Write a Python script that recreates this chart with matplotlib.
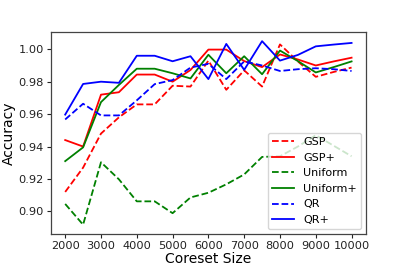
import matplotlib
matplotlib.use('Agg')
import matplotlib.pyplot as plt
import numpy as np

sizes = [2000, 2500, 3000, 3500, 4000, 4500, 5000, 5500, 6000,
         6500, 7000, 7500, 8000, 8500, 9000, 9500, 10000]

gsp = [0.912, 0.927, 0.948, 0.958, 0.966, 0.966, 0.9775, 0.977, 0.993,
       0.975, 0.987, 0.977, 1.003, 0.9925, 0.983, 0.986, 0.9887]
gsp_plus = [0.944, 0.940, 0.972, 0.9735, 0.9844, 0.9844, 0.980, 0.9872, 0.9998,
            0.9998, 0.9927, 0.989, 0.9968, 0.9937, 0.990, 0.9925, 0.9948]
uniform = [0.9046, 0.8918, 0.9303, 0.9198, 0.9062, 0.9062, 0.8989, 0.9086, 0.9115,
           0.9167, 0.9228, 0.9336, 0.934, 0.940, 0.947, 0.9405, 0.934]
uniform_plus = [0.931, 0.9395, 0.9674, 0.978, 0.988, 0.988, 0.9852, 0.982, 0.9966,
                0.9852, 0.9957, 0.9846, 0.9992, 0.9927, 0.9857, 0.989, 0.9925]
qr = [0.9567, 0.9664, 0.9592, 0.9592, 0.9685, 0.9785, 0.981, 0.9887, 0.991,
      0.9816, 0.9925, 0.990, 0.9866, 0.9877, 0.9883, 0.9877, 0.9866]
qr_plus = [0.9597, 0.9786, 0.980, 0.9793, 0.996, 0.996, 0.9926, 0.9957, 0.9816,
           1.0033, 0.9873, 1.005, 0.993, 0.9965, 1.0018, 1.0029, 1.0039]

fig = plt.figure(figsize=(4.07, 2.71), dpi=100)
ax = fig.add_subplot(111)
plt.subplots_adjust(left=0.125, right=0.899, top=0.882, bottom=0.137)

lw = 1.3
ax.plot(sizes, gsp, 'r--', lw=lw, label='GSP')
ax.plot(sizes, gsp_plus, 'r-', lw=lw, label='GSP+')
ax.plot(sizes, uniform, 'g--', lw=lw, label='Uniform')
ax.plot(sizes, uniform_plus, 'g-', lw=lw, label='Uniform+')
ax.plot(sizes, qr, 'b--', lw=lw, label='QR')
ax.plot(sizes, qr_plus, 'b-', lw=lw, label='QR+')

ax.set_xticks(np.arange(2000, 10001, 1000))
ax.set_yticks([0.90, 0.92, 0.94, 0.96, 0.98, 1.00])
ax.yaxis.set_major_formatter(matplotlib.ticker.FormatStrFormatter('%.2f'))
ax.tick_params(axis='both', labelsize=8.2, length=3, width=0.8, pad=2,
               colors='#222222')
for s in ax.spines.values():
    s.set_color('#444444')
    s.set_linewidth(0.9)

ax.set_xlabel('Coreset Size', fontsize=10, labelpad=1)
ax.set_ylabel('Accuracy', fontsize=10, labelpad=2)
ax.legend(loc='lower right', fontsize=8, handlelength=2.0, labelspacing=0.5,
          borderaxespad=0.4)

fig.savefig('out.png', dpi=100)
